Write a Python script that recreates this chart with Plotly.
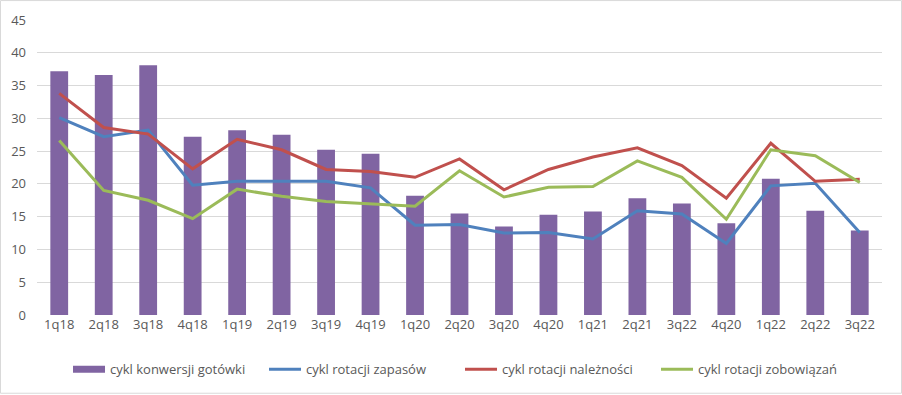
import plotly.graph_objects as go

quarters = ["1q18", "2q18", "3q18", "4q18", "1q19", "2q19", "3q19", "4q19", "1q20", "2q20",
            "3q20", "4q20", "1q21", "2q21", "3q22", "4q20", "1q22", "2q22", "3q22"]
konwersji = [37.2, 36.6, 38.1, 27.2, 28.2, 27.5, 25.2, 24.6, 18.2, 15.5,
             13.5, 15.3, 15.8, 17.8, 17.0, 14.0, 20.8, 15.9, 12.9]
zapasow = [30.1, 27.2, 28.2, 19.8, 20.4, 20.4, 20.4, 19.4, 13.7, 13.8,
           12.5, 12.6, 11.6, 15.9, 15.4, 10.9, 19.7, 20.1, 12.6]
naleznosci = [33.8, 28.6, 27.6, 22.3, 26.8, 25.2, 22.2, 21.9, 21.0, 23.8,
              19.1, 22.2, 24.1, 25.5, 22.8, 17.8, 26.2, 20.4, 20.7]
zobowiazan = [26.6, 19.0, 17.5, 14.7, 19.2, 18.1, 17.3, 16.9, 16.6, 22.0,
              18.0, 19.5, 19.6, 23.5, 21.0, 14.6, 25.2, 24.3, 20.2]
y_ticks = [0, 5, 10, 15, 20, 25, 30, 35, 40, 45]

x = list(range(len(quarters)))
font = dict(family="'Open Sans', 'DejaVu Sans', sans-serif", size=13, color="#595959")

fig = go.Figure()
fig.add_trace(go.Bar(x=x, y=konwersji, name="cykl konwersji gotówki", showlegend=False,
                     marker=dict(color="#8064A2", line=dict(width=0)), width=0.4))
# legend-only entry to get the wide rectangle legend key
fig.add_trace(go.Scatter(x=[None], y=[None], name="cykl konwersji gotówki", mode="lines",
                         line=dict(color="#8064A2", width=7)))
fig.add_trace(go.Scatter(x=x, y=zapasow, name="cykl rotacji zapasów", mode="lines",
                         line=dict(color="#4F81BD", width=3)))
fig.add_trace(go.Scatter(x=x, y=naleznosci, name="cykl rotacji należności", mode="lines",
                         line=dict(color="#C0504D", width=3)))
fig.add_trace(go.Scatter(x=x, y=zobowiazan, name="cykl rotacji zobowiązań", mode="lines",
                         line=dict(color="#9BBB59", width=3)))

fig.update_layout(
    width=902, height=395,
    margin=dict(l=37, r=20, t=20, b=79),
    paper_bgcolor="white", plot_bgcolor="white",
    font=font,
    showlegend=True,
    legend=dict(orientation="h", x=0.0367, xanchor="left", y=-0.18, yanchor="middle",
                font=font, traceorder="normal", itemwidth=32, entrywidth=149),
    xaxis=dict(range=[-0.5, len(quarters) - 0.5], tickmode="array", tickvals=x, ticktext=quarters,
               showgrid=False, zeroline=False, ticks="", showline=False, tickfont=font),
    yaxis=dict(range=[0, 45], tickmode="array", tickvals=y_ticks, showgrid=True,
               gridcolor="#D9D9D9", gridwidth=1, zeroline=False, ticks="", showline=False,
               tickfont=font, ticklabelstandoff=10),
    shapes=[dict(type="rect", xref="paper", yref="paper",
                 x0=-36.5/845, x1=864.5/845, y0=(316-394.5)/296, y1=(316-0.5)/296,
                 line=dict(color="#D9D9D9", width=1))],
)
fig.write_html("out.html", config={"displayModeBar": False},
               post_script="document.body.style.margin='0px';")
